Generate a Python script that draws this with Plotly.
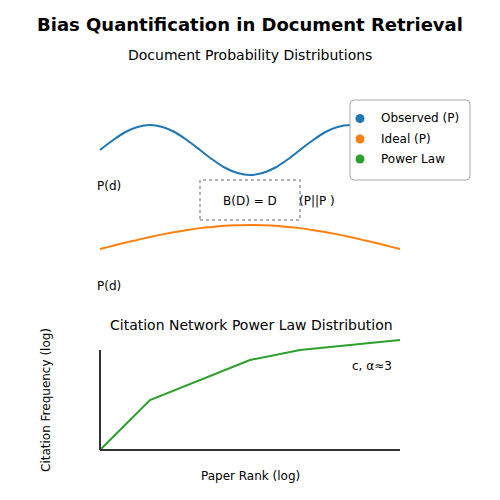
import plotly.graph_objects as go

# ---- data ----
obs_x = [i * 0.125 for i in range(25)]
obs_y = [0, 0.38, 0.71, 0.92, 1.0, 0.92, 0.71, 0.38, 0, -0.38, -0.71, -0.92, -1.0,
         -0.92, -0.71, -0.38, 0, 0.38, 0.71, 0.92, 1.0, 0.92, 0.71, 0.38, 0]
ideal_x = [i * 0.125 for i in range(25)]
ideal_y = [0, 0.13, 0.26, 0.38, 0.5, 0.61, 0.71, 0.79, 0.87, 0.92, 0.97, 0.99, 1.0,
           0.99, 0.97, 0.92, 0.87, 0.79, 0.71, 0.61, 0.5, 0.38, 0.26, 0.13, 0]
pl_x = [0, 0.5, 1.5, 2.0, 3.0]
pl_y = [0, 0.5, 0.9, 1.0, 1.1]
legend_names = ["Observed (P)", "Ideal (P)", "Power Law"]
colors = ["#1f77b4", "#ff7f0e", "#2ca02c"]

FONT = "DejaVu Sans"
OFF = 8  # page body margin offset

def py(p):
    return 1 - (p - OFF) / 500.0

def px(p):
    return (p - OFF) / 500.0

def xdom(a, b):
    return [px(a), px(b)]

def ydom(top, bottom):
    return [py(bottom), py(top)]

fig = go.Figure()
fig.add_trace(go.Scatter(x=obs_x, y=obs_y, mode="lines", line=dict(color=colors[0], width=2, shape="spline"),
                         xaxis="x", yaxis="y", showlegend=False, hoverinfo="skip"))
fig.add_trace(go.Scatter(x=ideal_x, y=ideal_y, mode="lines", line=dict(color=colors[1], width=2, shape="spline"),
                         xaxis="x", yaxis="y3", showlegend=False, hoverinfo="skip"))
fig.add_trace(go.Scatter(x=pl_x, y=pl_y, mode="lines", line=dict(color=colors[2], width=2),
                         xaxis="x2", yaxis="y2", showlegend=False, hoverinfo="skip"))

ax_common = dict(visible=False, showgrid=False, zeroline=False, fixedrange=True)
fig.update_layout(
    width=500, height=500,
    margin=dict(l=0, r=0, t=0, b=0),
    paper_bgcolor="white", plot_bgcolor="rgba(0,0,0,0)",
    showlegend=False,
    xaxis=dict(domain=xdom(95, 405), range=[-0.05, 3.05], anchor="y", **ax_common),
    yaxis=dict(domain=ydom(122.5, 177.5), range=[-1.1, 1.1], anchor="x", **ax_common),
    yaxis3=dict(domain=ydom(222.6, 251.4), range=[-0.1, 1.1], anchor="x", **ax_common),
    xaxis2=dict(domain=xdom(95, 405), range=[-0.05, 3.05], anchor="y2", **ax_common),
    yaxis2=dict(domain=ydom(335, 455), range=[-0.05, 1.15], anchor="x2", **ax_common),
    font=dict(family=FONT, color="black"),
)

shapes = []
# bottom axes spines
shapes.append(dict(type="line", xref="x2", yref="y2", x0=0, x1=0, y0=0, y1=1.0,
                   line=dict(color="#333333", width=2)))
shapes.append(dict(type="line", xref="x2", yref="y2", x0=0, x1=3.0, y0=0, y1=0,
                   line=dict(color="#333333", width=2)))
# dashed box
shapes.append(dict(type="rect", xref="paper", yref="paper", x0=px(200), x1=px(300), y0=py(220), y1=py(180),
                   line=dict(color="#999999", width=1.5, dash="dot"), fillcolor="rgba(0,0,0,0)"))
# legend frame (rounded)
x0, x1, y0, y1, r = px(350), px(470), py(180), py(100), 0.008
path = (f"M {x0+r},{y1} L {x1-r},{y1} Q {x1},{y1} {x1},{y1-r} L {x1},{y0+r} Q {x1},{y0} {x1-r},{y0} "
        f"L {x0+r},{y0} Q {x0},{y0} {x0},{y0+r} L {x0},{y1-r} Q {x0},{y1} {x0+r},{y1} Z")
shapes.append(dict(type="path", xref="paper", yref="paper", path=path,
                   line=dict(color="#aaaaaa", width=1), fillcolor="white"))
leg_y = [118.5, 139, 159]
for c, yy in zip(colors, leg_y):
    shapes.append(dict(type="circle", xref="paper", yref="paper",
                       x0=px(355.5), x1=px(364.5), y0=py(yy + 4.5), y1=py(yy - 4.5),
                       line=dict(color=c, width=0), fillcolor=c))
fig.update_layout(shapes=shapes)

ann = []
def text(t, x, y, size=12, xanchor="center", bold=False, angle=0):
    ann.append(dict(text=(f"<b>{t}</b>" if bold else t), x=px(x), y=py(y), xref="paper", yref="paper",
                    xanchor=xanchor, yanchor="middle", showarrow=False, textangle=angle,
                    font=dict(family=FONT, size=size, color="black")))

text("Bias Quantification in Document Retrieval", 250, 24, size=18, bold=True)
text("Document Probability Distributions", 250, 55, size=14)
text("Citation Network Power Law Distribution", 251, 325, size=14)
text("P(d)", 95, 186, size=12, xanchor="left")
text("P(d)", 95, 286, size=12, xanchor="left")
text("B(D) = D", 250, 201, size=12)
text("(P||P )", 297, 201, size=12, xanchor="left")
for name, yy in zip(legend_names, leg_y):
    text(name, 379, yy, size=12, xanchor="left")
text("c, α≈3", 350, 366, size=12, xanchor="left")
text("Paper Rank (log)", 250, 476, size=12)
text("Citation Frequency (log)", 46, 400, size=12, angle=-90)
fig.update_layout(annotations=ann)

fig.write_html("out.html")
